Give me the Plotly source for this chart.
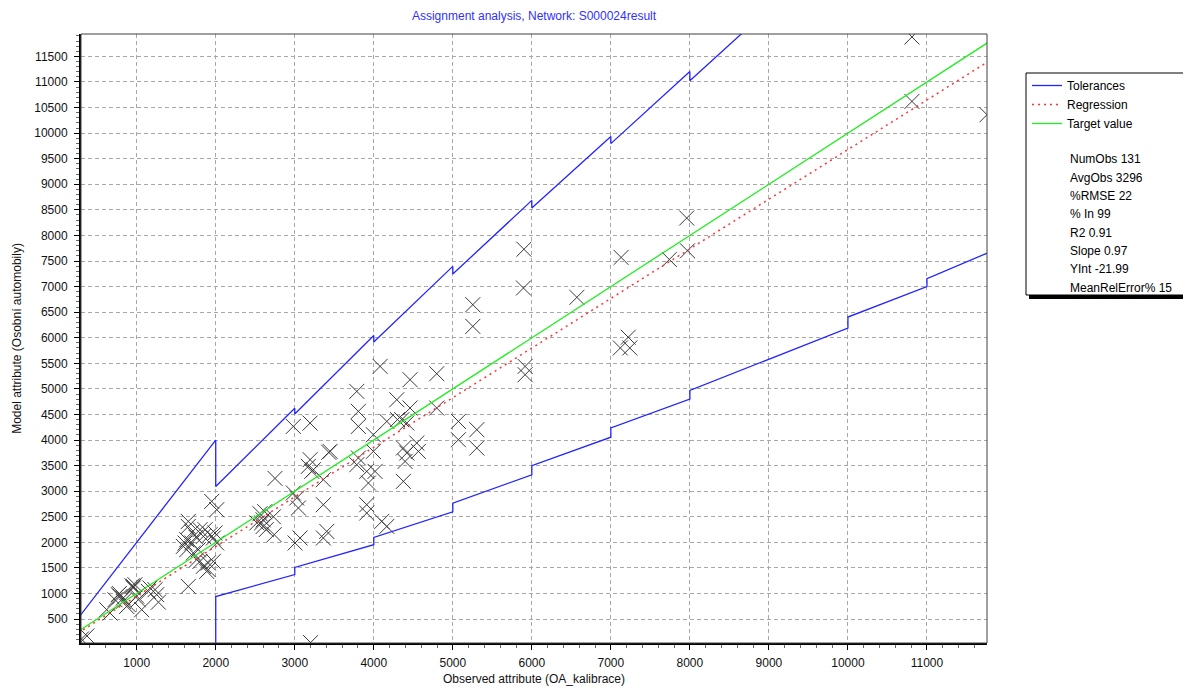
import plotly.graph_objects as go

# ---------------- data ----------------
observed = [300, 370, 620, 662, 725, 767, 789, 830, 830, 873, 894, 957, 957, 978, 1020, 1063, 1147, 1168, 1232, 1253, 1275,
            780, 940, 1000,
            1590, 1611, 1633, 1633, 1653, 1653, 1653, 1696, 1716, 1759, 1780, 1801, 1801, 1843, 1843, 1886, 1906, 1928,
            1949, 1970, 1970, 1991, 2013, 2013, 1865, 1906, 1700, 1750,
            2520, 2560, 2600, 2600, 2640, 2730, 2740, 2580, 2750, 2620,
            2982, 3194, 3194, 3447, 3430, 3236, 3362, 2982, 3025, 3046, 3362, 3004, 3067, 3362, 3405, 3215, 3172, 3200,
            3785, 3805, 3805, 3785, 3805, 3911, 3932, 4016, 3995, 3995, 3911, 3911, 4101, 4165, 4080, 4165,
            4291, 4354, 4418, 4459, 4459, 4797, 4797, 4375, 4375, 4396, 4418, 4544, 4565, 4300,
            5071, 5071, 5304, 5304, 5253, 5253,
            5894, 5900, 5915, 5915,
            6570, 7130, 7220, 7120, 7240, 7740, 7960, 7970,
            10810, 10810, 11760]
modelled = [110, 170, 683, 618, 878, 977, 943, 845, 912, 748, 781, 1107, 1138, 1172, 879, 683, 1041, 1107, 1074, 977, 830,
            1000, 1150, 950,
            1920, 1987, 1856, 2052, 2409, 2311, 1138, 1987, 1792, 1660, 1856, 2247, 1627, 2116, 1530, 1432, 1596, 2150,
            2800, 2085, 1627, 2183, 2638, 1987, 2247, 1465, 2200, 2100,
            2380, 2560, 2440, 2310, 2250, 2500, 2150, 2380, 3250, 2600,
            4266, 4331, 3616, 3778, 3760, 3420, 3225, 2964, 2866, 2671, 2736, 1987, 2085, 2085, 2214, 3387, 3485, 40,
            4951, 4560, 4266, 3518, 3649, 3387, 3160, 3387, 4104, 3778, 2736, 2573, 2409, 2311, 5440, 4364,
            4788, 4397, 4333, 5180, 4626, 5297, 4626, 3844, 3192, 3582, 3746, 3942, 3778, 4400,
            4364, 4006, 4202, 3844, 6646, 6222,
            6972, 7730, 5440, 5277,
            6790, 7570, 6010, 5800, 5800, 7530, 8340, 7700,
            11880, 10620, 10360]

tol_upper_x = [0, 2000, 2000, 3000, 3000, 4000, 4000, 5000, 5000, 6000, 6000, 7000, 7000, 8000, 8000, 9000]
tol_upper_y = [0, 4000, 3090, 4620, 4510, 6045, 5915, 7395, 7245, 8685, 8535, 9935, 9795, 11205, 11025, 12430]
tol_lower_x = [0, 2000, 2000, 3000, 3000, 4000, 4000, 5000, 5000, 6000, 6000, 7000, 7000, 8000, 8000,
               10000, 10000, 11000, 11000, 12000]
tol_lower_y = [0, 0, 940, 1370, 1510, 1955, 2095, 2595, 2765, 3320, 3500, 4055, 4235, 4800, 4970,
               6190, 6405, 7000, 7155, 7810]

reg_slope = 0.97
reg_intercept = -21.99
x_range = [295, 11760]
y_range = [32, 11938]

stats_lines = ["NumObs 131", "AvgObs 3296", "%RMSE 22", "% In 99", "R2 0.91",
               "Slope 0.97", "YInt -21.99", "MeanRelError% 15"]
legend_names = ["Tolerances", "Regression", "Target value"]
title_text = "Assignment analysis, Network: S000024result"
x_title = "Observed attribute (OA_kalibrace)"
y_title = "Model attribute (Osobní automobily)"

# ---------------- figure ----------------
OFF = 8  # default body margin of the html page
W, H = 1191 - OFF, 691 - OFF
L, R, T, B = 81 - OFF, 987 - OFF, 34 - OFF, 643 - OFF
FONT = "Liberation Sans, Arial, sans-serif"


def px(xp):
    return (xp - OFF - L) / (R - L)


def py(yp):
    return (B - (yp - OFF)) / (B - T)


fig = go.Figure()

fig.add_trace(go.Scatter(
    x=observed, y=modelled, mode="markers", showlegend=False, hoverinfo="x+y",
    marker=dict(symbol="x-thin", size=15, color="#3a3a3a", line=dict(width=1, color="#3a3a3a")),
))

tol_x = tol_upper_x + [None] + tol_lower_x
tol_y = tol_upper_y + [None] + tol_lower_y
fig.add_trace(go.Scatter(
    x=tol_x, y=tol_y, mode="lines", name=legend_names[0], connectgaps=False,
    line=dict(color="#2424ff", width=1.3),
))

reg_x = [0, 12000]
reg_y = [reg_slope * v + reg_intercept for v in reg_x]
fig.add_trace(go.Scatter(
    x=reg_x, y=reg_y, mode="lines", name=legend_names[1],
    line=dict(color="#ff3333", width=1.5, dash="2px,4px"),
))

tgt_x = [0, 12000]
fig.add_trace(go.Scatter(
    x=tgt_x, y=tgt_x, mode="lines", name=legend_names[2],
    line=dict(color="#22ee22", width=1.3),
))

# legend box with shadow
fig.add_shape(type="rect", xref="paper", yref="paper", layer="below",
              x0=px(1029), x1=px(1191), y0=py(299), y1=py(76),
              fillcolor="#000000", line=dict(width=0))
fig.add_shape(type="rect", xref="paper", yref="paper", layer="below",
              x0=px(1026), x1=px(1187), y0=py(295), y1=py(73),
              fillcolor="#ffffff", line=dict(color="#000000", width=1))

# frame (top/right border)
fig.add_shape(type="rect", xref="paper", yref="paper", layer="above",
              x0=0, x1=1, y0=0, y1=1, line=dict(color="#404040", width=1))

for i, s in enumerate(stats_lines):
    fig.add_annotation(text=s, xref="paper", yref="paper", x=px(1068), y=py(159.3 + i * 18.35),
                       xanchor="left", yanchor="middle", showarrow=False,
                       font=dict(family=FONT, size=12, color="#000000"))

fig.update_layout(
    width=W, height=H, autosize=False,
    margin=dict(l=L, r=W - R, t=T, b=H - B, pad=0),
    paper_bgcolor="#ffffff", plot_bgcolor="#ffffff",
    font=dict(family=FONT, size=12, color="#111111"),
    title=dict(text=title_text, x=0.5, xref="paper", xanchor="center",
               y=1 - (16 - OFF) / H, yref="container", yanchor="middle",
               font=dict(family=FONT, size=12, color="#3030ff")),
    legend=dict(x=px(1027), y=py(71), xanchor="left", yanchor="top",
                bgcolor="rgba(0,0,0,0)", borderwidth=0,
                font=dict(family=FONT, size=12, color="#000000"),
                tracegroupgap=0, itemwidth=30),
    showlegend=True,
)

fig.update_xaxes(
    range=x_range, tick0=0, dtick=1000, tickformat="d",
    ticks="outside", ticklen=5, tickwidth=1, tickcolor="#000000",
    showline=True, linewidth=2, linecolor="#000000",
    showgrid=True, gridcolor="#a8a8a8", gridwidth=1, griddash="4px,3px",
    zeroline=False, ticklabelstandoff=3,
    minor=dict(dtick=200, tick0=0, ticks="outside", ticklen=3, tickcolor="#666666", showgrid=False),
    tickfont=dict(family=FONT, size=12, color="#111111"),
    title=dict(text=x_title, standoff=5, font=dict(family=FONT, size=12, color="#111111")),
    automargin=False,
)
fig.update_yaxes(
    range=y_range, tick0=0, dtick=500, tickformat="d",
    ticks="outside", ticklen=5, tickwidth=1, tickcolor="#000000",
    showline=True, linewidth=2, linecolor="#000000",
    showgrid=True, gridcolor="#a8a8a8", gridwidth=1, griddash="4px,3px",
    zeroline=False, ticklabelstandoff=4,
    minor=dict(dtick=100, tick0=0, ticks="outside", ticklen=3, tickcolor="#666666", showgrid=False),
    tickfont=dict(family=FONT, size=12, color="#111111"),
    title=dict(text=y_title, standoff=10, font=dict(family=FONT, size=12, color="#111111")),
    automargin=False,
)

fig.write_html("out.html")
